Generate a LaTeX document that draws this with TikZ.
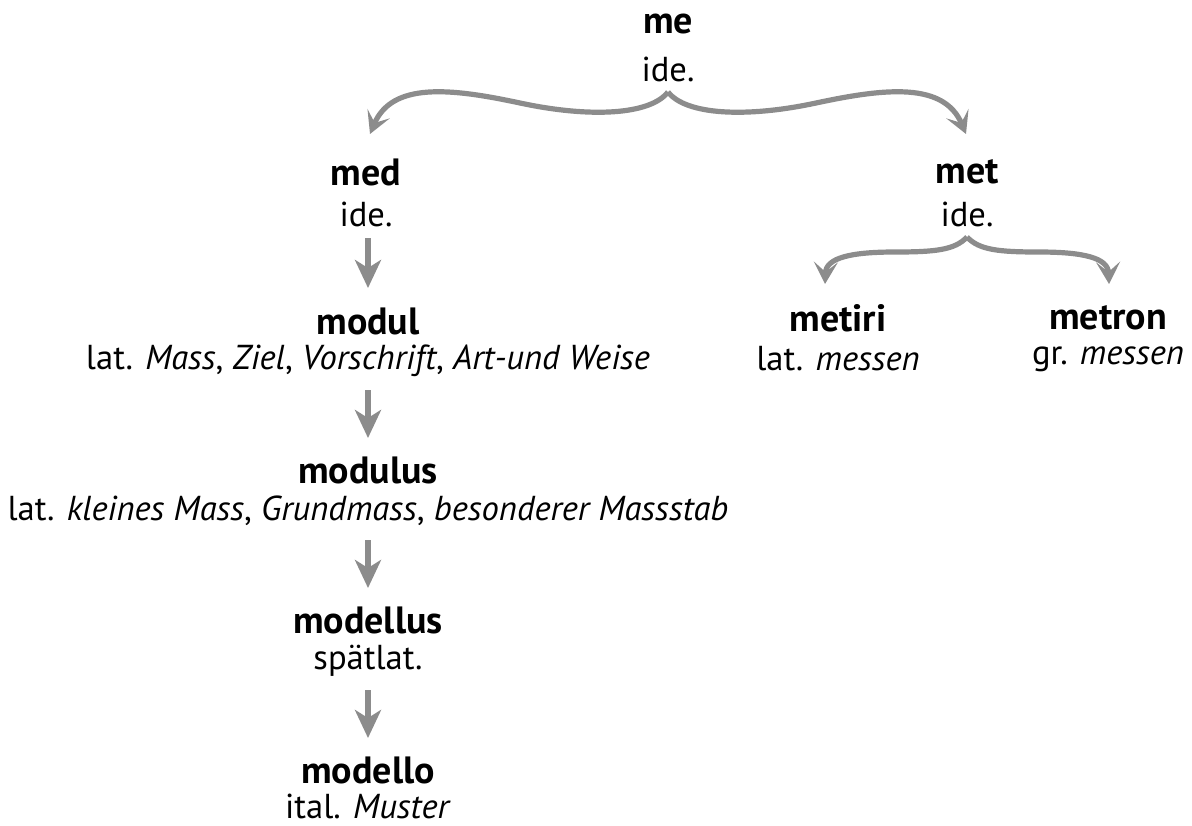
\documentclass[tikz,border=0pt]{standalone}
\usepackage{fontspec}
\setmainfont{PT Sans}
\usetikzlibrary{arrows.meta}
\definecolor{argray}{RGB}{140,140,140}
\begin{document}
\begin{tikzpicture}[x=0.5pt,y=-0.5pt,
  word/.style={font=\fontsize{19}{22}\selectfont\bfseries, inner sep=0pt, anchor=center},
  gloss/.style={font=\fontsize{17.3}{21}\selectfont, inner sep=0pt, anchor=center},
  brace/.style={draw=argray, line width=2.6pt, -{Stealth[length=11pt,width=12pt,inset=5pt]}},
  down/.style={draw=argray, line width=3.2pt, -{Stealth[length=14pt,width=13pt,inset=4pt]}}]
\useasboundingbox (0,0) rectangle (1192,825);
% nodes
\node[word]  (me)   at (668,24)  {me};
\node[gloss] (mei)  at (668,69)  {ide.};
\node[word]  (med)  at (366,172) {med};
\node[gloss] (medi) at (366,214) {ide.};
\node[word]  (met)  at (967,172) {met};
\node[gloss] (meti) at (967,214) {ide.};
\node[word]  (modul) at (368,321) {modul};
\node[gloss] (moduli) at (368,361) {lat. \textit{Mass}, \textit{Ziel}, \textit{Vorschrift}, \textit{Art-und Weise}};
\node[word]  (metiri) at (838,318) {metiri};
\node[gloss] (metirii) at (838,359) {lat. \textit{messen}};
\node[word]  (metron) at (1108,318) {metron};
\node[gloss] (metronii) at (1108,359) {gr. \textit{messen}};
\node[word]  (modulus) at (368,470) {modulus};
\node[gloss] (modulusi) at (368,511) {lat. \textit{kleines Mass}, \textit{Grundmass}, \textit{besonderer Massstab}};
\node[word]  (modellus) at (368,620) {modellus};
\node[gloss] (modellusi) at (368,661) {spätlat.};
\node[word]  (modello) at (368,770) {modello};
\node[gloss] (modelloi) at (368,806) {ital. \textit{Muster}};
% brace anchors
\coordinate (c1) at (668,92);
\coordinate (t1l) at (370,134);
\coordinate (t1r) at (966,134);
\coordinate (c2) at (967,237);
\coordinate (t2l) at (825,284);
\coordinate (t2r) at (1109,284);
\draw[brace] (c1) .. controls (650,115) and (590,118) .. (520,103)
   .. controls (450,88) and (392,82) .. (t1l);
\draw[brace] (c1) .. controls (686,115) and (746,118) .. (816,103)
   .. controls (886,88) and (944,82) .. (t1r);
\draw[brace] (c2) .. controls (955,250) and (935,252) .. (895,252)
   .. controls (850,252) and (826,258) .. (t2l);
\draw[brace] (c2) .. controls (979,250) and (999,252) .. (1039,252)
   .. controls (1084,252) and (1108,258) .. (t2r);
% straight arrows
\draw[down] (368,238) -- (368,288);
\draw[down] (368,390) -- (368,438);
\draw[down] (368,540) -- (368,588);
\draw[down] (368,690) -- (368,738);
\end{tikzpicture}
\end{document}
